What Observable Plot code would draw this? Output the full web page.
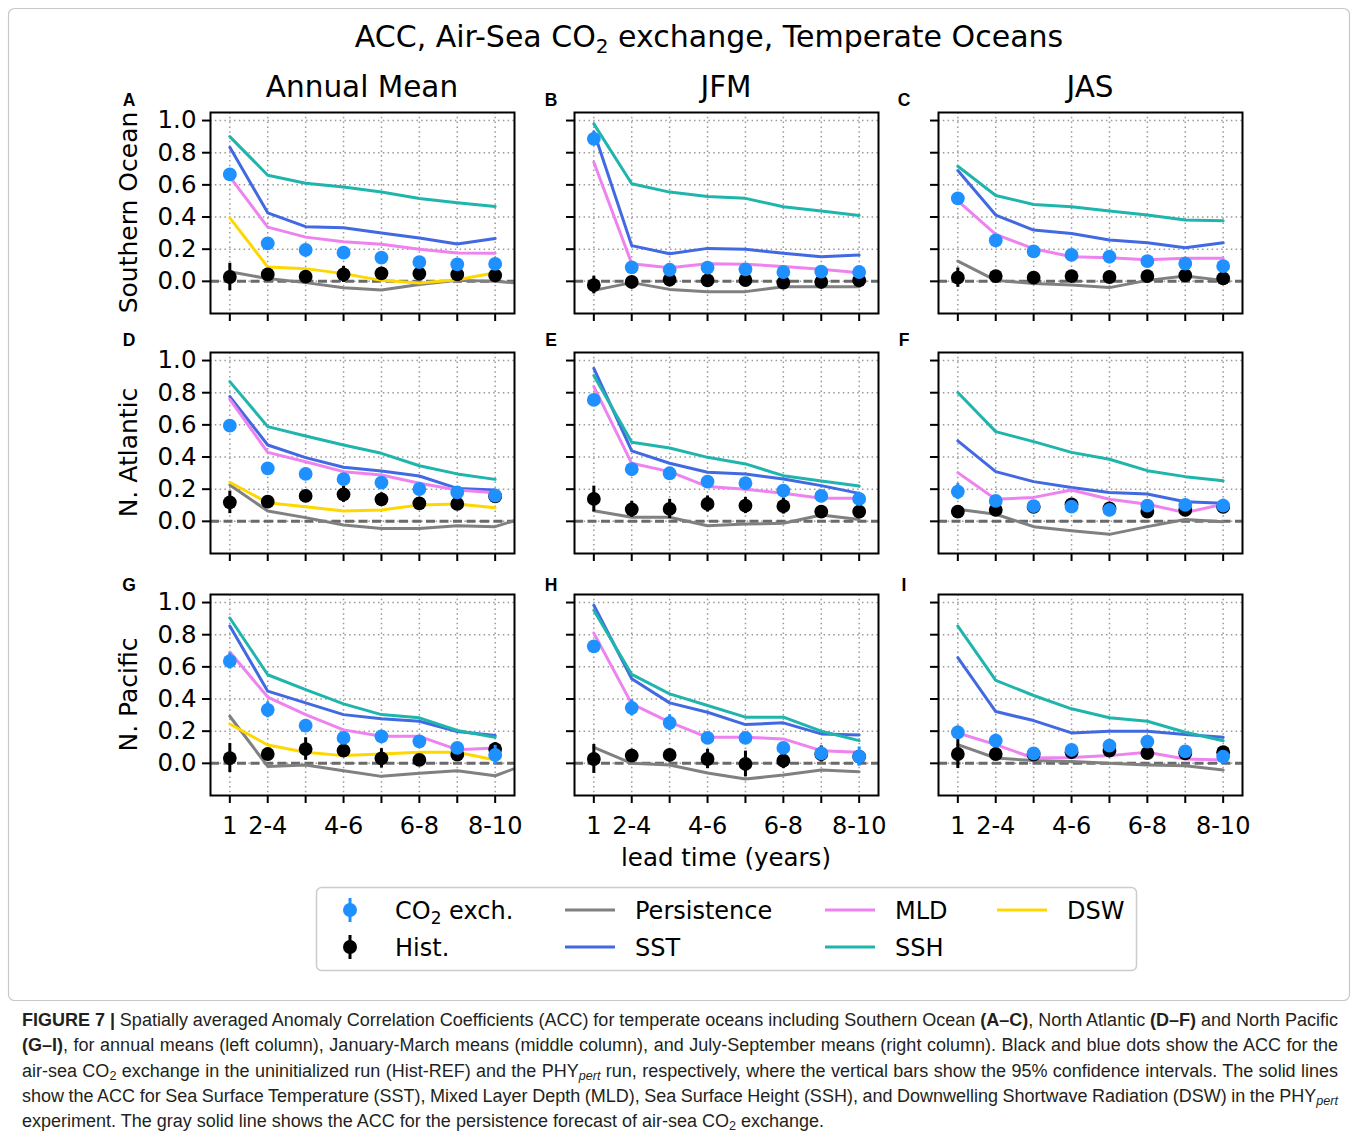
<!DOCTYPE html>
<html><head><meta charset="utf-8">
<script src="https://cdn.jsdelivr.net/npm/d3@7"></script>
<script src="https://cdn.jsdelivr.net/npm/@observablehq/plot@0.6"></script>
<style>
body{margin:0;background:#fff;}
#root{position:relative;width:1357px;height:1141px;font-family:"DejaVu Sans",sans-serif;overflow:hidden;}
.abs{position:absolute;}
.cap{position:absolute;left:22px;top:1008px;width:1316px;font-family:"Liberation Sans Narrow","Liberation Sans",Arial,sans-serif;font-size:18px;color:#231f20;}
.cap div{height:25.3px;line-height:25.3px;white-space:nowrap;}
.cap .j{display:inline-block;white-space:nowrap;}
.cap sub{font-size:70%;line-height:0;vertical-align:-0.25em;}
</style></head><body><div id="root"></div>
<script>
// ---- categories / labels ----
const leadLabels = ["1","2-4","3-5","4-6","5-7","6-8","7-9","8-10"];
const xTickLabels = ["1","2-4","","4-6","","6-8","","8-10"];
const yTicks = [0, 0.2, 0.4, 0.6, 0.8, 1.0];
const regions = ["Southern Ocean","N. Atlantic","N. Pacific"];
const seasons = ["Annual Mean","JFM","JAS"];
const letters = ["A","B","C","D","E","F","G","H","I"];

// ---- Panel A: Southern Ocean, Annual ----
const co2_A = [0.665, 0.236, 0.195, 0.178, 0.147, 0.120, 0.106, 0.108];
const co2Err_A = [0.03, 0.03, 0.02, 0.02, 0.02, 0.02, 0.02, 0.02];
const hist_A = [0.027, 0.043, 0.029, 0.043, 0.050, 0.048, 0.043, 0.037];
const histErr_A = [0.085, 0.03, 0.03, 0.05, 0.03, 0.03, 0.03, 0.03];
const pers_A = [0.060, 0.017, -0.008, -0.040, -0.054, -0.019, 0.006, 0.000, -0.017];
const sst_A = [0.834, 0.426, 0.340, 0.333, 0.300, 0.270, 0.232, 0.267];
const mld_A = [0.650, 0.337, 0.275, 0.246, 0.230, 0.199, 0.176, 0.174];
const ssh_A = [0.900, 0.660, 0.610, 0.586, 0.555, 0.515, 0.489, 0.466];
const dsw_A = [0.395, 0.089, 0.079, 0.048, 0.006, -0.010, 0.010, 0.054];

// ---- Panel B: Southern Ocean, JFM ----
const co2_B = [0.886, 0.087, 0.072, 0.085, 0.075, 0.058, 0.060, 0.058];
const co2Err_B = [0.03, 0.02, 0.02, 0.02, 0.02, 0.02, 0.02, 0.02];
const hist_B = [-0.023, -0.004, 0.010, 0.006, 0.008, -0.008, -0.004, 0.006];
const histErr_B = [0.055, 0.02, 0.02, 0.02, 0.02, 0.02, 0.02, 0.02];
const pers_B = [-0.056, -0.008, -0.050, -0.064, -0.064, -0.033, -0.033, -0.033];
const sst_B = [0.930, 0.222, 0.172, 0.205, 0.199, 0.174, 0.153, 0.164];
const mld_B = [0.741, 0.110, 0.085, 0.110, 0.106, 0.093, 0.075, 0.054];
const ssh_B = [0.979, 0.607, 0.555, 0.528, 0.516, 0.464, 0.437, 0.410];

// ---- Panel C: Southern Ocean, JAS ----
const co2_C = [0.516, 0.255, 0.186, 0.164, 0.153, 0.126, 0.110, 0.095];
const co2Err_C = [0.03, 0.02, 0.02, 0.02, 0.02, 0.02, 0.02, 0.02];
const hist_C = [0.023, 0.033, 0.023, 0.033, 0.027, 0.033, 0.037, 0.019];
const histErr_C = [0.06, 0.02, 0.02, 0.03, 0.03, 0.02, 0.02, 0.02];
const pers_C = [0.126, 0.006, -0.014, -0.023, -0.039, 0.006, 0.033, 0.006];
const sst_C = [0.689, 0.412, 0.319, 0.298, 0.257, 0.240, 0.209, 0.240];
const mld_C = [0.500, 0.292, 0.203, 0.153, 0.147, 0.135, 0.143, 0.143];
const ssh_C = [0.716, 0.534, 0.478, 0.464, 0.437, 0.412, 0.381, 0.377];

// ---- Panel D: N. Atlantic, Annual ----
const co2_D = [0.595, 0.330, 0.295, 0.263, 0.241, 0.201, 0.180, 0.160];
const co2Err_D = [0.03, 0.03, 0.03, 0.03, 0.03, 0.03, 0.03, 0.04];
const hist_D = [0.118, 0.122, 0.158, 0.168, 0.137, 0.112, 0.108, 0.155];
const histErr_D = [0.07, 0.03, 0.03, 0.05, 0.04, 0.03, 0.03, 0.03];
const pers_D = [0.226, 0.064, 0.023, -0.023, -0.044, -0.044, -0.027, -0.033, 0.040];
const sst_D = [0.776, 0.475, 0.396, 0.336, 0.313, 0.282, 0.205, 0.195];
const mld_D = [0.759, 0.429, 0.371, 0.309, 0.288, 0.237, 0.195, 0.178];
const ssh_D = [0.869, 0.589, 0.531, 0.475, 0.423, 0.346, 0.295, 0.261];
const dsw_D = [0.243, 0.116, 0.091, 0.064, 0.071, 0.102, 0.108, 0.085];

// ---- Panel E: N. Atlantic, JFM ----
const co2_E = [0.755, 0.324, 0.299, 0.247, 0.237, 0.191, 0.158, 0.139];
const co2Err_E = [0.03, 0.03, 0.03, 0.03, 0.03, 0.03, 0.03, 0.03];
const hist_E = [0.139, 0.075, 0.077, 0.108, 0.098, 0.095, 0.060, 0.060];
const histErr_E = [0.08, 0.05, 0.06, 0.05, 0.05, 0.05, 0.03, 0.03];
const pers_E = [0.066, 0.025, 0.025, -0.027, -0.017, -0.012, 0.039, 0.012];
const sst_E = [0.952, 0.438, 0.361, 0.305, 0.295, 0.263, 0.222, 0.174];
const mld_E = [0.838, 0.361, 0.309, 0.216, 0.199, 0.174, 0.143, 0.143];
const ssh_E = [0.907, 0.492, 0.456, 0.398, 0.357, 0.284, 0.251, 0.220];

// ---- Panel F: N. Atlantic, JAS ----
const co2_F = [0.185, 0.127, 0.095, 0.091, 0.071, 0.098, 0.102, 0.098];
const co2Err_F = [0.05, 0.03, 0.03, 0.03, 0.03, 0.03, 0.03, 0.04];
const hist_F = [0.060, 0.071, 0.090, 0.106, 0.081, 0.060, 0.071, 0.090];
const histErr_F = [0.03, 0.03, 0.03, 0.03, 0.03, 0.03, 0.03, 0.03];
const pers_F = [0.075, 0.044, -0.033, -0.058, -0.081, -0.033, 0.012, -0.002];
const sst_F = [0.500, 0.309, 0.247, 0.210, 0.180, 0.170, 0.122, 0.112];
const mld_F = [0.303, 0.137, 0.149, 0.195, 0.137, 0.106, 0.054, 0.106];
const ssh_F = [0.801, 0.558, 0.496, 0.429, 0.386, 0.315, 0.278, 0.253];

// ---- Panel G: N. Pacific, Annual ----
const co2_G = [0.636, 0.333, 0.235, 0.158, 0.168, 0.137, 0.096, 0.052];
const co2Err_G = [0.05, 0.05, 0.03, 0.03, 0.03, 0.03, 0.03, 0.06];
const hist_G = [0.033, 0.058, 0.089, 0.079, 0.031, 0.021, 0.054, 0.089];
const histErr_G = [0.09, 0.03, 0.07, 0.03, 0.06, 0.03, 0.03, 0.04];
const pers_G = [0.293, -0.019, -0.010, -0.046, -0.081, -0.062, -0.046, -0.077, 0.010];
const sst_G = [0.854, 0.449, 0.376, 0.303, 0.277, 0.262, 0.198, 0.173];
const mld_G = [0.692, 0.412, 0.303, 0.208, 0.168, 0.168, 0.085, 0.096];
const ssh_G = [0.904, 0.551, 0.459, 0.370, 0.303, 0.283, 0.204, 0.162];
const dsw_G = [0.245, 0.114, 0.069, 0.048, 0.058, 0.069, 0.069, 0.021];

// ---- Panel H: N. Pacific, JFM ----
const co2_H = [0.728, 0.345, 0.252, 0.158, 0.158, 0.096, 0.062, 0.042];
const co2Err_H = [0.03, 0.05, 0.05, 0.03, 0.03, 0.03, 0.04, 0.06];
const hist_H = [0.027, 0.048, 0.052, 0.027, -0.004, 0.017, 0.058, 0.042];
const histErr_H = [0.09, 0.04, 0.03, 0.06, 0.08, 0.05, 0.05, 0.03];
const pers_H = [0.100, 0.000, -0.010, -0.060, -0.098, -0.073, -0.042, -0.052];
const sst_H = [0.983, 0.526, 0.376, 0.318, 0.241, 0.252, 0.183, 0.177];
const mld_H = [0.810, 0.370, 0.256, 0.162, 0.162, 0.152, 0.079, 0.069];
const ssh_H = [0.952, 0.553, 0.432, 0.360, 0.287, 0.287, 0.200, 0.141];

// ---- Panel I: N. Pacific, JAS ----
const co2_I = [0.193, 0.141, 0.062, 0.083, 0.110, 0.135, 0.075, 0.042];
const co2Err_I = [0.04, 0.04, 0.02, 0.02, 0.02, 0.02, 0.02, 0.03];
const hist_I = [0.058, 0.058, 0.055, 0.069, 0.079, 0.064, 0.062, 0.069];
const histErr_I = [0.09, 0.02, 0.02, 0.02, 0.02, 0.02, 0.02, 0.02];
const pers_I = [0.116, 0.033, 0.017, 0.012, 0.000, -0.010, -0.015, -0.042];
const sst_I = [0.657, 0.322, 0.266, 0.189, 0.200, 0.200, 0.179, 0.162];
const mld_I = [0.189, 0.116, 0.033, 0.037, 0.048, 0.069, 0.027, 0.021];
const ssh_I = [0.854, 0.516, 0.422, 0.339, 0.283, 0.262, 0.193, 0.141];

const panels = [
  {co2: co2_A, co2Err: co2Err_A, hist: hist_A, histErr: histErr_A, pers: pers_A, sst: sst_A, mld: mld_A, ssh: ssh_A, dsw: dsw_A},
  {co2: co2_B, co2Err: co2Err_B, hist: hist_B, histErr: histErr_B, pers: pers_B, sst: sst_B, mld: mld_B, ssh: ssh_B},
  {co2: co2_C, co2Err: co2Err_C, hist: hist_C, histErr: histErr_C, pers: pers_C, sst: sst_C, mld: mld_C, ssh: ssh_C},
  {co2: co2_D, co2Err: co2Err_D, hist: hist_D, histErr: histErr_D, pers: pers_D, sst: sst_D, mld: mld_D, ssh: ssh_D, dsw: dsw_D},
  {co2: co2_E, co2Err: co2Err_E, hist: hist_E, histErr: histErr_E, pers: pers_E, sst: sst_E, mld: mld_E, ssh: ssh_E},
  {co2: co2_F, co2Err: co2Err_F, hist: hist_F, histErr: histErr_F, pers: pers_F, sst: sst_F, mld: mld_F, ssh: ssh_F},
  {co2: co2_G, co2Err: co2Err_G, hist: hist_G, histErr: histErr_G, pers: pers_G, sst: sst_G, mld: mld_G, ssh: ssh_G, dsw: dsw_G},
  {co2: co2_H, co2Err: co2Err_H, hist: hist_H, histErr: histErr_H, pers: pers_H, sst: sst_H, mld: mld_H, ssh: ssh_H},
  {co2: co2_I, co2Err: co2Err_I, hist: hist_I, histErr: histErr_I, pers: pers_I, sst: sst_I, mld: mld_I, ssh: ssh_I}
];

const C = {co2:"#1e90ff", hist:"#000000", pers:"#808080", sst:"#4169e1", mld:"#ee82ee", ssh:"#1fb5ad", dsw:"#ffd700", zero:"#6a6a6a", grid:"#999999"};

// ---- layout ----
const FL = [210, 574, 938], FT = [112, 352, 594];
const FW = 304, FH = 201;
const ML = 74, MR = 14, MT = 12, MB = 54;
const root = document.getElementById("root");

// overlay svg for titles, labels
const NS = "http://www.w3.org/2000/svg";
const ov = document.createElementNS(NS, "svg");
ov.setAttribute("width", 1357); ov.setAttribute("height", 1141);
ov.style.position = "absolute"; ov.style.left = "0"; ov.style.top = "0";
root.appendChild(ov);
function el(tag, attrs, parent = ov) {
  const e = document.createElementNS(NS, tag);
  for (const k in attrs) e.setAttribute(k, attrs[k]);
  parent.appendChild(e); return e;
}
function txt(x, y, s, attrs = {}) {
  const t = el("text", Object.assign({x, y, "font-family": "DejaVu Sans", fill: "#000"}, attrs));
  t.textContent = s; return t;
}
// figure border
el("rect", {x: 8.5, y: 8.5, width: 1341, height: 992, rx: 6, fill: "none", stroke: "#c8c8c8", "stroke-width": 1.2});
// main title with subscript
{
  const t = el("text", {x: 709, y: 47, "font-family": "DejaVu Sans", "font-size": 30, "text-anchor": "middle", fill: "#000"});
  const a = el("tspan", {}, t); a.textContent = "ACC, Air-Sea CO";
  const b = el("tspan", {dy: 6, "font-size": 20}, t); b.textContent = "2";
  const c = el("tspan", {dy: -6}, t); c.textContent = " exchange, Temperate Oceans";
}
// column titles
seasons.forEach((s, c) => txt(FL[c] + FW / 2, 97, s, {"font-size": 29.5, "text-anchor": "middle"}));
// row labels
regions.forEach((s, r) => {
  txt(0, 0, s, {"font-size": 25, "text-anchor": "middle", transform: `translate(137,${FT[r] + FH / 2}) rotate(-90)`});
});
// panel letters
const LX = [129, 551, 904], LY = [106, 346, 591];
letters.forEach((s, i) => txt(LX[i % 3], LY[Math.floor(i / 3)], s, {"font-size": 17.5, "font-weight": "bold", "font-family": "Liberation Sans, Arial", "text-anchor": "middle"}));
// x label
txt(726, 866, "lead time (years)", {"font-size": 24.5, "text-anchor": "middle"});

// ---- panels with Plot ----
panels.forEach((p, k) => {
  const r = Math.floor(k / 3), c = k % 3;
  const ix = (d, i) => i;
  const line = (vals, color) => Plot.line(vals, {x: ix, y: d => d, stroke: color, strokeWidth: 3, clip: true});
  const marks = [
    Plot.ruleX(d3.range(leadLabels.length), {stroke: C.grid, strokeWidth: 1.5, strokeDasharray: "1.5,3.3"}),
    Plot.ruleY(yTicks, {stroke: C.grid, strokeWidth: 1.5, strokeDasharray: "1.5,3.3"}),
    Plot.ruleY([0], {stroke: C.zero, strokeWidth: 3, strokeDasharray: "9,4.5"}),
    line(p.pers, C.pers),
    line(p.sst, C.sst),
    line(p.mld, C.mld),
    line(p.ssh, C.ssh)
  ];
  if (p.dsw) marks.push(line(p.dsw, C.dsw));
  marks.push(
    Plot.ruleX(p.hist, {x: ix, y1: (d, i) => d - p.histErr[i], y2: (d, i) => d + p.histErr[i], stroke: C.hist, strokeWidth: 3}),
    Plot.dot(p.hist, {x: ix, y: d => d, r: 6.9, fill: C.hist, stroke: "none"}),
    Plot.ruleX(p.co2, {x: ix, y1: (d, i) => d - p.co2Err[i], y2: (d, i) => d + p.co2Err[i], stroke: C.co2, strokeWidth: 3}),
    Plot.dot(p.co2, {x: ix, y: d => d, r: 6.9, fill: C.co2, stroke: "none"}),
    Plot.axisY({ticks: yTicks, tickSize: 8, tickPadding: 6, fontSize: 24.5, strokeWidth: 2, label: null,
      tickFormat: c === 0 ? (d => d.toFixed(1)) : (() => "")}),
    Plot.axisX({ticks: d3.range(leadLabels.length), tickSize: 8, tickPadding: 13, fontSize: 24, strokeWidth: 2, label: null,
      tickFormat: r === 2 ? (i => xTickLabels[i]) : (() => "")}),
    Plot.frame({stroke: "#000", strokeWidth: 2})
  );
  const svg = Plot.plot({
    width: ML + FW + MR, height: MT + FH + MB,
    marginLeft: ML, marginRight: MR, marginTop: MT, marginBottom: MB,
    x: {domain: [-0.51, 7.51], label: null},
    y: {domain: [-0.2, 1.05], label: null},
    style: {fontFamily: "DejaVu Sans", color: "#000", background: "transparent", overflow: "visible", maxWidth: "none"},
    marks
  });
  const wrap = document.createElement("div");
  wrap.className = "abs";
  wrap.style.left = (FL[c] - ML) + "px";
  wrap.style.top = (FT[r] - MT) + "px";
  wrap.appendChild(svg);
  root.appendChild(wrap);
});

// ---- legend (separate svg on top) ----
const lg = document.createElementNS(NS, "svg");
lg.setAttribute("width", 1357); lg.setAttribute("height", 1141);
lg.style.position = "absolute"; lg.style.left = "0"; lg.style.top = "0";
root.appendChild(lg);
el("rect", {x: 316.5, y: 887.5, width: 820, height: 83, rx: 5, fill: "#fff", stroke: "#cccccc", "stroke-width": 1.5}, lg);
const legendRows = [910, 947];
function lgText(x, y, parts) {
  const t = el("text", {x, y: y + 8.5, "font-family": "DejaVu Sans", "font-size": 24, fill: "#000"}, lg);
  let prevSub = false;
  parts.forEach(([s, sub]) => {
    const ts = el("tspan", sub ? {dy: 5, "font-size": 17} : {dy: prevSub ? -5 : 0}, t);
    ts.textContent = s; prevSub = !!sub;
  });
}
function lgMarker(x, y, color) {
  el("line", {x1: x, x2: x, y1: y - 12, y2: y + 12, stroke: color, "stroke-width": 3}, lg);
  el("circle", {cx: x, cy: y, r: 7, fill: color}, lg);
}
function lgLine(x, y, color) {
  el("line", {x1: x, x2: x + 50, y1: y, y2: y, stroke: color, "stroke-width": 3}, lg);
}
lgMarker(350, legendRows[0], C.co2); lgText(395, legendRows[0], [["CO"], ["2", true], [" exch."]]);
lgMarker(350, legendRows[1], C.hist); lgText(395, legendRows[1], [["Hist."]]);
lgLine(565, legendRows[0], C.pers); lgText(635, legendRows[0], [["Persistence"]]);
lgLine(565, legendRows[1], C.sst); lgText(635, legendRows[1], [["SST"]]);
lgLine(825, legendRows[0], C.mld); lgText(895, legendRows[0], [["MLD"]]);
lgLine(825, legendRows[1], C.ssh); lgText(895, legendRows[1], [["SSH"]]);
lgLine(997, legendRows[0], C.dsw); lgText(1067, legendRows[0], [["DSW"]]);

// ---- caption ----
const cap = document.createElement("div");
cap.className = "cap";
cap.innerHTML = `
<div><span class="j"><b>FIGURE 7 |</b> Spatially averaged Anomaly Correlation Coefficients (ACC) for temperate oceans including Southern Ocean <b>(A–C)</b>, North Atlantic <b>(D–F)</b> and North Pacific</span></div>
<div><span class="j"><b>(G–I)</b>, for annual means (left column), January-March means (middle column), and July-September means (right column). Black and blue dots show the ACC for the</span></div>
<div><span class="j">air-sea CO<sub>2</sub> exchange in the uninitialized run (Hist-REF) and the PHY<sub><i>pert</i></sub> run, respectively, where the vertical bars show the 95% confidence intervals. The solid lines</span></div>
<div><span class="j">show the ACC for Sea Surface Temperature (SST), Mixed Layer Depth (MLD), Sea Surface Height (SSH), and Downwelling Shortwave Radiation (DSW) in the PHY<sub><i>pert</i></sub></span></div>
<div><span>experiment. The gray solid line shows the ACC for the persistence forecast of air-sea CO<sub>2</sub> exchange.</span></div>`;
root.appendChild(cap);
cap.querySelectorAll(".j").forEach(s => {
  const w = s.getBoundingClientRect().width;
  const n = (s.textContent.match(/ /g) || []).length;
  if (n) s.style.wordSpacing = ((1316 - w) / n) + "px";
});
</script>
</body></html>
